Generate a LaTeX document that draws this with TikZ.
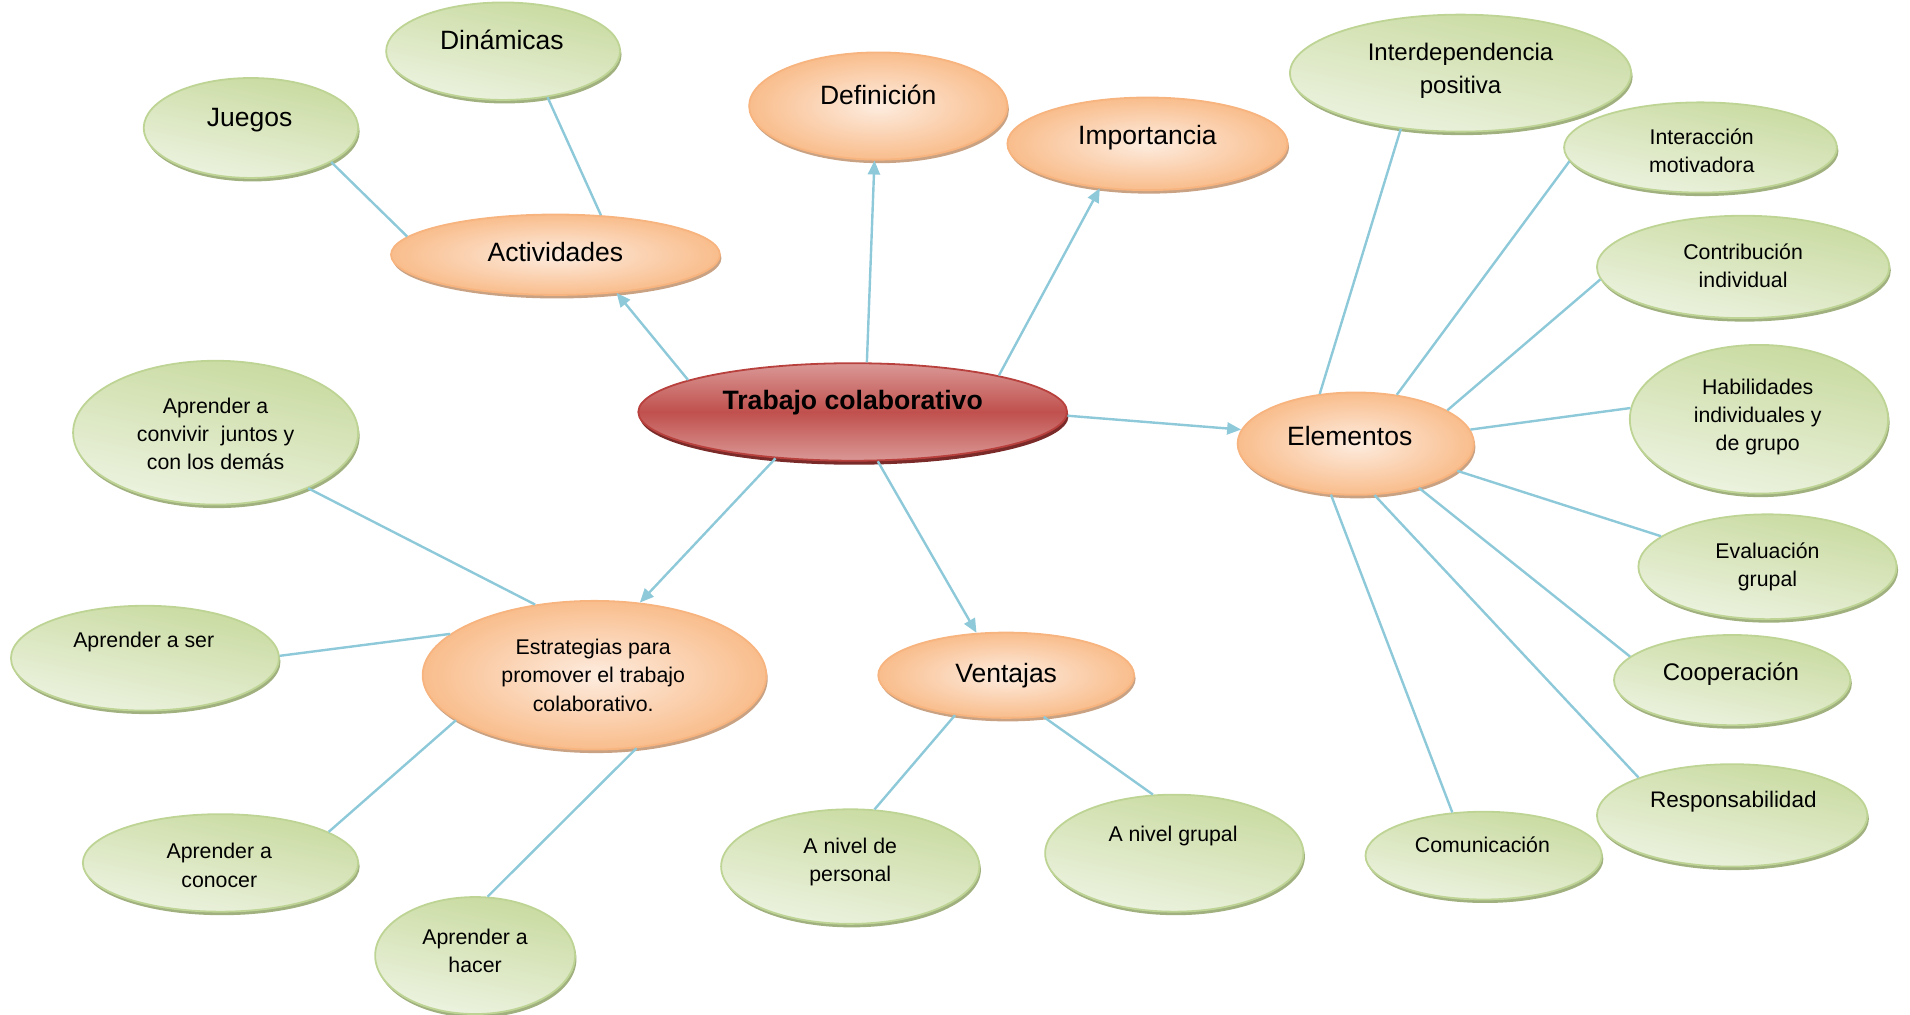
\documentclass[tikz,border=0pt]{standalone}
\usepackage{fontspec}
\setmainfont{Liberation Sans}
\usetikzlibrary{shapes.geometric,arrows.meta,shadows}
\definecolor{oDark}{HTML}{F9BD8C}
\definecolor{oLight}{HTML}{FDECDF}
\definecolor{oEdge}{HTML}{F7B47F}
\definecolor{oShadow}{HTML}{C9A283}
\definecolor{gDark}{HTML}{C8DA9F}
\definecolor{gLight}{HTML}{EDF3E1}
\definecolor{gEdge}{HTML}{BED495}
\definecolor{gShadow}{HTML}{A0B07E}
\definecolor{rMid}{HTML}{C0504D}
\definecolor{rLight}{HTML}{DA9896}
\definecolor{rEdge}{HTML}{B8403D}
\definecolor{rShadow}{HTML}{7A2A28}
\definecolor{link}{HTML}{8DC9D9}
\begin{document}
\begin{tikzpicture}[x=1.2181pt,y=-1.2188pt,
  base/.style={ellipse, inner sep=0pt, line width=1.8pt},
  sz/.style 2 args={minimum width=2.4362pt*#1, minimum height=2.4376pt*#2},
  oell/.style={base, draw=oEdge, inner color=oLight, outer color=oDark,
    drop shadow={shadow xshift=1.5pt, shadow yshift=-3.5pt, fill=oShadow, opacity=1}},
  gell/.style={base, draw=gEdge, top color=gDark, bottom color=gLight, shading angle=-12,
    drop shadow={shadow xshift=1.5pt, shadow yshift=-3.5pt, fill=gShadow, opacity=1}},
  rell/.style={base, draw=rEdge, top color=rLight, bottom color=rLight, middle color=rMid,
    drop shadow={shadow xshift=1.5pt, shadow yshift=-4pt, fill=rShadow, opacity=1}},
  txt/.style={inner sep=0pt, align=center, text=black, yshift=-2.4pt},
  fa/.style={txt, font=\fontsize{26.5}{34}\selectfont},
  fb/.style={txt, font=\fontsize{24}{33}\selectfont},
  fc/.style={txt, font=\fontsize{21.3}{28.3}\selectfont},
  fd/.style={txt, font=\fontsize{22.5}{29}\selectfont},
  ln/.style={draw=link, line width=2.4pt},
  ar/.style={ln, -{Triangle[length=14pt,width=12pt]}}
]
\useasboundingbox (0,0) rectangle (1568,832);

% central
\node[rell, sz={176}{40}] (trab) at (700,338) {};
\node[txt, font=\bfseries\fontsize{26.6}{34}\selectfont] (trab-t) at (700,328) {Trabajo colaborativo};

% orange
\node[oell, sz={135}{33}] (activ) at (456,209) {};
\node[oell, sz={106}{44}] (defin) at (721,87) {};
\node[oell, sz={115}{38}] (impor) at (942,118) {};
\node[oell, sz={97}{42}] (elem) at (1113,364) {};
\node[oell, sz={141}{61}] (estr) at (488,554) {};
\node[oell, sz={105}{35}] (vent) at (826,554) {};

% green
\node[gell, sz={96}{40}] (dinam) at (413,42) {};
\node[gell, sz={88}{41}] (juegos) at (206,105) {};
\node[gell, sz={140}{48}] (interd) at (1199,60) {};
\node[gell, sz={112}{37}] (interac) at (1396,121) {};
\node[gell, sz={120}{42}] (contrib) at (1431,219) {};
\node[gell, sz={106}{61}] (habil) at (1444,344) {};
\node[gell, sz={106}{43}] (evalu) at (1451,465) {};
\node[gell, sz={97}{37}] (coop) at (1422,558) {};
\node[gell, sz={111}{42}] (resp) at (1422,669) {};
\node[gell, sz={97}{36}] (comun) at (1218,702) {};
\node[gell, sz={117}{59}] (conviv) at (177,355) {};
\node[gell, sz={110}{43}] (ser) at (119,540) {};
\node[gell, sz={113}{40}] (conocer) at (181,708) {};
\node[gell, sz={82}{48}] (hacer) at (390,784) {};
\node[gell, sz={106}{47}] (personal) at (698,711) {};
\node[gell, sz={106}{48}] (grupal) at (964,700) {};

% texts
\node[fa] (activ-t) at (456,205) {Actividades};
\node[fa] (defin-t) at (721,76) {Definición};
\node[fa] (impor-t) at (942,111) {Importancia};
\node[fa] (elem-t) at (1108,356) {Elementos};
\node[fc] (estr-t) at (487,552) {Estrategias para\\promover el trabajo\\colaborativo.};
\node[fa] (vent-t) at (826,552) {Ventajas};
\node[fa] (dinam-t) at (412,31) {Dinámicas};
\node[fa] (juegos-t) at (205,97) {Juegos};
\node[fb] (interd-t) at (1199,56) {Interdependencia\\positiva};
\node[fc] (interac-t) at (1397,122) {Interacción\\motivadora};
\node[fc] (contrib-t) at (1431,216) {Contribución\\individual};
\node[fc] (habil-t) at (1443,340) {Habilidades\\individuales y\\de grupo};
\node[fc] (evalu-t) at (1451,463) {Evaluación\\grupal};
\node[fb] (coop-t) at (1421,551) {Cooperación};
\node[fd] (resp-t) at (1423,656) {Responsabilidad};
\node[fc] (comun-t) at (1217,691) {Comunicación};
\node[fc] (conviv-t) at (177,354) {Aprender a\\convivir~ juntos y\\con los demás};
\node[fc] (ser-t) at (118,525) {Aprender a ser};
\node[fc] (conocer-t) at (180,708) {Aprender a\\conocer};
\node[fc] (hacer-t) at (390,778) {Aprender a\\hacer};
\node[fc] (personal-t) at (698,705) {A nivel de\\personal};
\node[fc] (grupal-t) at (963,684) {A nivel grupal};

% connectors
\draw[ln] (juegos.-23.5) -- (activ.173.5);
\draw[ln] (dinam.-46.5) -- (activ.41.8);
\draw[ar] (trab.169.8) -- (activ.-32);
\draw[ar] (trab.74) -- (defin.-94);
\draw[ar] (trab.14) -- (impor.-137);
\draw[ar] (trab.-1.3) -- (elem.173);
\draw[ar] (trab.-149.7) -- (estr.58);
\draw[ar] (trab.-63.4) -- (vent.125);
\draw[ln] (estr.130.4) -- (conviv.-31.3);
\draw[ln] (estr.164.4) -- (ser.1.6);
\draw[ln] (estr.-162.4) -- (conocer.16);
\draw[ln] (estr.-60.6) -- (hacer.78);
\draw[ln] (vent.-142.7) -- (personal.67.4);
\draw[ln] (vent.-48.4) -- (grupal.110.6);
\draw[ln] (elem.126.2) -- (interd.-137.9);
\draw[ln] (elem.50.3) -- (interac.-174.1);
\draw[ln] (elem.20.9) -- (contrib.-175.7);
\draw[ln] (elem.7) -- (habil.175.7);
\draw[ln] (elem.-15.1) -- (evalu.164.6);
\draw[ln] (elem.-35.6) -- (coop.167.5);
\draw[ln] (elem.-70.8) -- (resp.158.2);
\draw[ln] (elem.-116.6) -- (comun.126.4);
\end{tikzpicture}
\end{document}
